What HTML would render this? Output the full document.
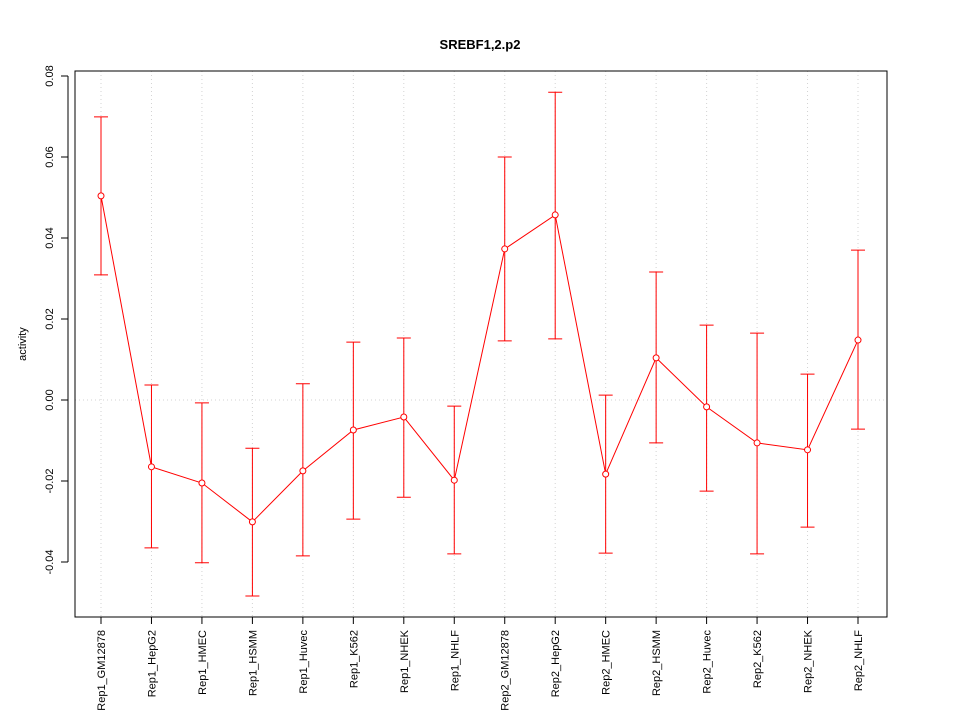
<!DOCTYPE html>
<html><head><meta charset="utf-8"><style>
html,body{margin:0;padding:0;background:#fff;}
svg{display:block;font-family:"Liberation Sans",Arial,sans-serif;}
</style></head><body>
<svg id="chart" width="960" height="720" viewBox="0 0 960 720">
<text x="480" y="49" text-anchor="middle" font-size="13" font-weight="bold">SREBF1,2.p2</text>
<text transform="translate(26,344) rotate(-90)" text-anchor="middle" font-size="11">activity</text>
<g id="grid"></g>
<g id="yaxis"></g>
<g id="xaxis"></g>
<g id="series"></g>
<rect x="75" y="71" width="812" height="546" fill="none" stroke="#000" stroke-width="1"/>
</svg>
<script>
const categories=["Rep1_GM12878","Rep1_HepG2","Rep1_HMEC","Rep1_HSMM","Rep1_Huvec","Rep1_K562","Rep1_NHEK","Rep1_NHLF","Rep2_GM12878","Rep2_HepG2","Rep2_HMEC","Rep2_HSMM","Rep2_Huvec","Rep2_K562","Rep2_NHEK","Rep2_NHLF"];
const means=[0.0504,-0.0165,-0.0205,-0.0301,-0.0175,-0.0074,-0.0042,-0.0198,0.0373,0.0457,-0.0183,0.0104,-0.0017,-0.0106,-0.0123,0.0148];
const upper=[0.0699,0.0037,-0.0007,-0.0119,0.0040,0.0143,0.0153,-0.0015,0.0600,0.0760,0.0012,0.0316,0.0185,0.0165,0.0064,0.0370];
const lower=[0.0309,-0.0365,-0.0402,-0.0484,-0.0385,-0.0294,-0.0240,-0.0380,0.0146,0.0151,-0.0378,-0.0106,-0.0225,-0.0380,-0.0314,-0.0072];
const yTicks=[-0.04,-0.02,0.00,0.02,0.04,0.06,0.08];
const yTickLabels=["-0.04","-0.02","0.00","0.02","0.04","0.06","0.08"];
const NS="http://www.w3.org/2000/svg";
function x(i){return 101+i*(858-101)/(categories.length-1);}
function y(v){return 400-v*4050;}
function mk(tag,attrs,parent){const e=document.createElementNS(NS,tag);for(const k in attrs)e.setAttribute(k,attrs[k]);parent.appendChild(e);return e;}
const grid=document.getElementById('grid'),ya=document.getElementById('yaxis'),xa=document.getElementById('xaxis'),se=document.getElementById('series');
categories.forEach((c,i)=>{
 const g=mk('line',{x1:x(i),x2:x(i),y1:71,y2:617,stroke:'#d3d3d3','stroke-dasharray':'1,3'},grid);
 
 
 const t=mk('line',{x1:x(i),x2:x(i),y1:617,y2:624,stroke:'#000'},xa);
 
 
 const l=mk('text',{transform:`translate(${x(i)+4},630) rotate(-90)`,'text-anchor':'end','font-size':'11'},xa);
 l.textContent=c;
 
 
});
const h=mk('line',{x1:75,x2:887,y1:y(0),y2:y(0),stroke:'#d3d3d3','stroke-dasharray':'1,3'},grid);


mk('line',{x1:68,x2:68,y1:y(yTicks[0]),y2:y(yTicks[yTicks.length-1]),stroke:'#000'},ya);
yTicks.forEach((v,i)=>{
 const t=mk('line',{x1:61,x2:68,y1:y(v),y2:y(v),stroke:'#000'},ya);
 
 
 const l=mk('text',{transform:`translate(53,${y(v)}) rotate(-90)`,'text-anchor':'middle','font-size':'11'},ya);
 l.textContent=yTickLabels[i];
 
 
});
const pl=mk('polyline',{points:means.map((m,i)=>x(i)+','+y(m)).join(' '),fill:'none',stroke:'#ff0000'},se);


means.forEach((m,i)=>{
 const eb=mk('path',{d:`M${x(i)},${y(lower[i])}V${y(upper[i])}M${x(i)-7},${y(upper[i])}H${x(i)+7}M${x(i)-7},${y(lower[i])}H${x(i)+7}`,stroke:'#ff0000',fill:'none'},se);
 
 
 const p=mk('circle',{cx:x(i),cy:y(m),r:3,fill:'#fff',stroke:'#ff0000'},se);
 
 
});
</script>
</body></html>
